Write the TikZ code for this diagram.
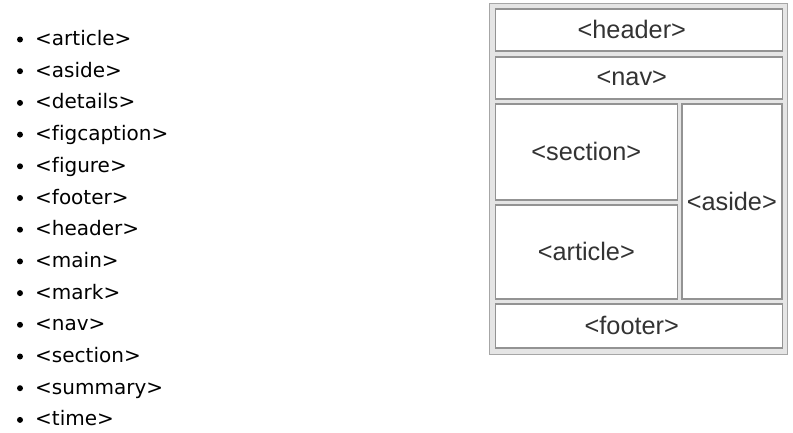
\documentclass[tikz,border=0pt]{standalone}
\usepackage{fontspec}
\setmainfont{DejaVu Sans}[Ligatures=CommonOff]
\newfontfamily\boxfont{Liberation Sans}
\begin{document}
\begin{tikzpicture}[x=1pt,y=-1pt,
  item/.style={anchor=base west,inner sep=0pt,font=\fontsize{20}{21}\selectfont,text=black},
  dot/.style={circle,fill=black,inner sep=0pt,minimum size=6pt},
  areabox/.style={draw=gray!85,line width=1.6pt,fill=white,inner sep=0pt,anchor=north west},
  lbl/.style={text=black!80,font=\boxfont\fontsize{25.3}{26}\selectfont,inner sep=0pt}]
\useasboundingbox (0,0) rectangle (793,432);
\fill[white] (0,0) rectangle (793,432);
% list
\foreach \t [count=\i from 0] in {article,aside,details,figcaption,figure,footer,header,main,mark,nav,section,summary,time}{
  \node[dot] (b\i) at (20,{39.5+31.7*\i}) {};
  \node[item] (t\i) at (35,{45.5+31.7*\i}) {<\t>};
}
% layout
\node[draw=gray!70,line width=1.2pt,fill=gray!20,minimum width=298pt,minimum height=351pt,anchor=north west,inner sep=0pt] (outer) at (489,2.5) {};
\node[areabox,minimum width=287pt,minimum height=42pt] (header) at (494.5,8) {};
\node[areabox,minimum width=287pt,minimum height=42pt] (nav) at (494.5,56) {};
\node[areabox,minimum width=182pt,minimum height=96pt] (section) at (494.5,103) {};
\node[areabox,minimum width=182pt,minimum height=94pt] (article) at (494.5,204) {};
\node[areabox,minimum width=100pt,minimum height=195pt] (aside) at (681,103) {};
\node[areabox,minimum width=287pt,minimum height=44pt] (footer) at (494.5,303) {};
\foreach \n in {header,nav,footer}{
  \node[lbl] (l\n) at ([xshift=-7pt]\n.center) {<\n>};
}
\foreach \n in {section,article,aside}{
  \node[lbl] (l\n) at (\n.center) {<\n>};
}
\end{tikzpicture}
\end{document}
